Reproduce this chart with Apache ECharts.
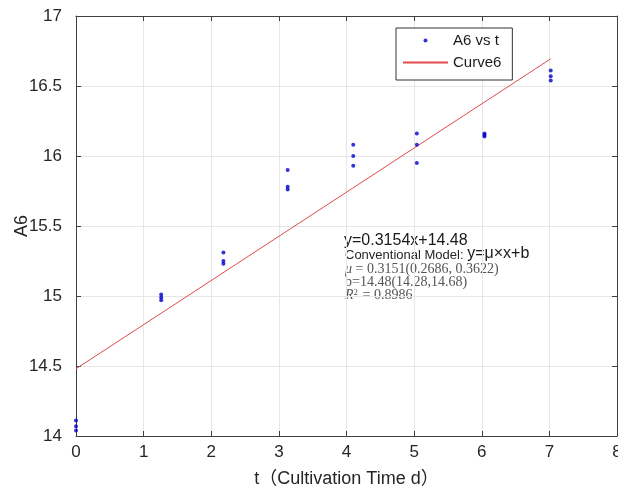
<!DOCTYPE html>
<html>
<head>
<meta charset="utf-8">
<script src="https://cdn.jsdelivr.net/npm/echarts@6/dist/echarts.min.js"></script>
<style>
  html, body { margin: 0; padding: 0; background: #ffffff; overflow: hidden; }
  #chart { width: 618px; height: 493px; }
</style>
</head>
<body>
<div id="chart"></div>
<script>
// Sampling times (days) and three replicate A6 readings per time point
const sampleTimes = [0, 1.26, 2.18, 3.13, 4.10, 5.04, 6.04, 7.02];
const replicateA = [14.11, 15.01, 15.31, 15.90, 16.08, 16.16, 16.16, 16.61];
const replicateB = [14.07, 14.99, 15.25, 15.78, 16.00, 16.08, 16.15, 16.57];
const replicateC = [14.04, 14.97, 15.23, 15.76, 15.93, 15.95, 16.14, 16.54];

// Linear fit y = slope * t + intercept, drawn over the sampled range
const fitSlope = 0.3154;
const fitIntercept = 14.48;
const fitRange = [0, 7.02];

const xTicks = { min: 0, max: 8, interval: 1 };
const yTicks = { min: 14, max: 17, interval: 0.5 };

const scatterPoints = [];
sampleTimes.forEach((t, i) => {
  scatterPoints.push([t, replicateA[i]], [t, replicateB[i]], [t, replicateC[i]]);
});
const fitPoints = fitRange.map(t => [t, +(fitSlope * t + fitIntercept).toFixed(4)]);

const SANS = '"Liberation Sans", Arial, "Noto Sans CJK SC", sans-serif';
const SERIF = '"Liberation Serif", "DejaVu Serif", serif';
const AXIS_COLOR = '#404040';
const GRID_COLOR = '#e6e6e6';

function boxAxis(extra) {
  return Object.assign({
    type: 'value',
    axisLine: { show: true, onZero: false, lineStyle: { color: AXIS_COLOR, width: 1 } },
    axisTick: { show: true, inside: true, length: 5, lineStyle: { color: AXIS_COLOR } },
    splitLine: { show: false },
    axisLabel: { show: false }
  }, extra);
}

const chart = echarts.init(document.getElementById('chart'), null, {
  renderer: 'canvas', width: 618, height: 493
});
chart.setOption({
  animation: false,
  backgroundColor: '#ffffff',
  grid: { left: 76, right: 1, top: 16, bottom: 57, containLabel: false, outerBoundsMode: 'none' },
  xAxis: [
    boxAxis({
      min: xTicks.min, max: xTicks.max, interval: xTicks.interval,
      position: 'bottom',
      name: 't（Cultivation Time d）',
      nameLocation: 'middle',
      nameGap: 34,
      nameMoveOverlap: false,
      nameTextStyle: { fontFamily: SANS, fontSize: 18, color: '#262626' },
      axisLabel: { show: true, fontFamily: SANS, fontSize: 17, color: '#262626', margin: 8 },
      splitLine: { show: true, lineStyle: { color: GRID_COLOR, width: 1 } }
    }),
    boxAxis({ min: xTicks.min, max: xTicks.max, interval: xTicks.interval, position: 'top' })
  ],
  yAxis: [
    boxAxis({
      min: yTicks.min, max: yTicks.max, interval: yTicks.interval,
      position: 'left',
      name: 'A6',
      nameLocation: 'middle',
      nameGap: 45,
      nameMoveOverlap: false,
      nameTextStyle: { fontFamily: SANS, fontSize: 18, color: '#262626' },
      axisLabel: { show: true, fontFamily: SANS, fontSize: 17, color: '#262626', margin: 14 },
      splitLine: { show: true, lineStyle: { color: GRID_COLOR, width: 1 } }
    }),
    boxAxis({ min: yTicks.min, max: yTicks.max, interval: yTicks.interval, position: 'right' })
  ],
  legend: {
    left: 396,
    top: 28,
    orient: 'vertical',
    backgroundColor: '#ffffff',
    borderColor: '#333333',
    borderWidth: 1,
    borderRadius: 0,
    padding: [5, 11, 10, 6],
    itemGap: 7,
    itemWidth: 45,
    itemHeight: 4,
    textStyle: { fontFamily: SANS, fontSize: 15, color: '#1a1a1a' },
    data: [
      { name: 'A6 vs t', icon: 'circle' },
      { name: 'Curve6', itemStyle: { color: 'rgba(0,0,0,0)', borderWidth: 0 } }
    ]
  },
  series: [
    {
      name: 'A6 vs t',
      type: 'scatter',
      xAxisIndex: 0, yAxisIndex: 0,
      symbol: 'circle',
      symbolSize: 4,
      itemStyle: { color: '#0000cc' },
      data: scatterPoints,
      z: 3
    },
    {
      name: 'Curve6',
      type: 'line',
      xAxisIndex: 0, yAxisIndex: 0,
      symbol: 'none',
      lineStyle: { color: '#e24b4b', width: 1 },
      data: fitPoints,
      z: 2
    }
  ],
  graphic: [
    {
      type: 'text', left: 344, top: 233,
      style: { text: 'y=0.3154x+14.48', font: '16px ' + SANS, fill: '#1a1a1a' }
    },
    {
      type: 'text', left: 345, top: 246,
      style: {
        text: '{a|Conventional Model: }{b|y=μ×x+b}',
        rich: {
          a: { font: '13px ' + SANS, fill: '#262626', verticalAlign: 'bottom' },
          b: { font: '16px ' + SANS, fill: '#1a1a1a', verticalAlign: 'bottom' }
        }
      }
    },
    {
      type: 'text', left: 345, top: 262,
      style: {
        text: '{i|μ} = 0.3151(0.2686, 0.3622)',
        font: '14px ' + SERIF, fill: '#555555',
        rich: { i: { font: 'italic 14px ' + SERIF, fill: '#555555' } }
      }
    },
    {
      type: 'text', left: 345, top: 275,
      style: { text: 'b=14.48(14.28,14.68)', font: '14px ' + SERIF, fill: '#555555' }
    },
    {
      type: 'text', left: 345, top: 288,
      style: {
        text: '{i|R}{s|2} = 0.8986',
        font: '14px ' + SERIF, fill: '#555555',
        rich: {
          i: { font: 'italic 14px ' + SERIF, fill: '#555555' },
          s: { font: '9px ' + SERIF, fill: '#555555', verticalAlign: 'top', padding: [0, 1, 6, 0] }
        }
      }
    }
  ]
});
</script>
</body>
</html>
